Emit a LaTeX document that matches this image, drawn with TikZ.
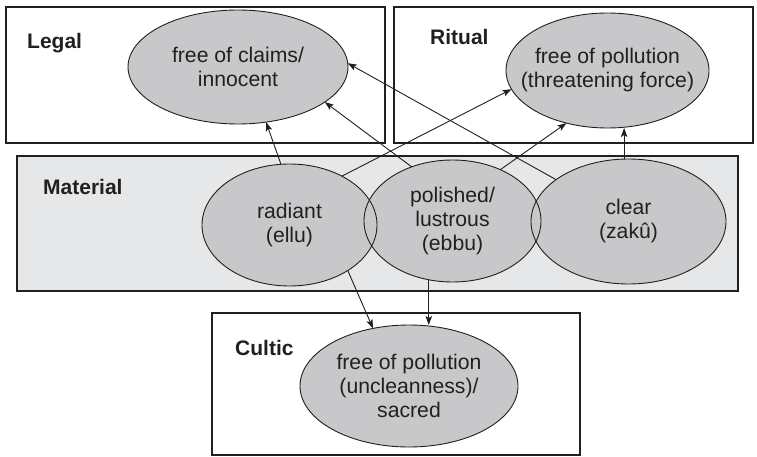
\documentclass[tikz,border=0pt]{standalone}
\usepackage{fontspec}
\setmainfont{Liberation Sans}
\usetikzlibrary{arrows.meta,shapes.geometric}
\definecolor{ink}{HTML}{231F20}
\definecolor{matfill}{HTML}{E6E7E8}
\definecolor{ellfill}{HTML}{C8C8CA}
\newcommand{\zl}[1]{\makebox[0pt]{#1}}
\begin{document}
\begin{tikzpicture}[x=1pt,y=-1pt,
  box/.style={draw=ink,line width=1.6pt},
  lbl/.style={anchor=base west,inner sep=0pt,font=\fontsize{21}{24}\selectfont\bfseries,text=ink},
  ell/.style={ellipse,draw=ink,line width=0.9pt,inner sep=0pt,outer sep=0pt,align=center,font=\fontsize{21.2}{24}\selectfont,text=ink},
  arr/.style={draw=ink,line width=0.9pt,-{Stealth[length=9pt,width=6.5pt,inset=2pt]}}]
\useasboundingbox (0,0) rectangle (757,457);
% boxes
\path[box] (6,7) rectangle (385,143);
\path[box] (394,7) rectangle (753,143);
\path[box,fill=matfill] (17,156) rectangle (738,291);
\path[box] (212,313) rectangle (580,455);
% labels
\node[lbl] (llegal) at (27,49) {Legal};
\node[lbl] (lritual) at (430,45) {Ritual};
\node[lbl] (lmaterial) at (43,194.5) {Material};
\node[lbl] (lcultic) at (235,355.5) {Cultic};
% ellipse fills
\fill[ellfill] (238,67) ellipse [x radius=110, y radius=57];
\fill[ellfill] (607.5,70.5) ellipse [x radius=101.5, y radius=57.5];
\fill[ellfill] (289.5,225) ellipse [x radius=87.5, y radius=61];
\fill[ellfill] (452.5,221) ellipse [x radius=88.5, y radius=61];
\fill[ellfill] (628.5,221.5) ellipse [x radius=97.5, y radius=62.5];
\fill[ellfill] (409,386) ellipse [x radius=109, y radius=61];
% ellipse nodes
\node[ell,minimum width=220pt,minimum height=114pt] (legal) at (238,67) {\zl{free of claims/}\\\zl{innocent}};
\node[ell,minimum width=203pt,minimum height=115pt] (ritual) at (607.5,70.5) {\zl{free of pollution}\\\zl{(threatening force)}};
\node[ell,minimum width=175pt,minimum height=122pt] (radiant) at (289.5,225) {\zl{radiant}\\\zl{(ellu)}};
\node[ell,minimum width=177pt,minimum height=122pt] (polished) at (452.5,221) {\zl{polished/}\\\zl{lustrous}\\\zl{(ebbu)}};
\node[ell,minimum width=195pt,minimum height=125pt] (clear) at (628.5,221.5) {\zl{clear}\\\zl{(zakû)}};
\node[ell,minimum width=218pt,minimum height=122pt] (cultic) at (409,386) {\zl{free of pollution}\\\zl{(uncleanness)/}\\\zl{sacred}};
% connectors
\draw[arr] (radiant.98.7) -- (legal.297.4);
\draw[arr] (polished.127.5) -- (legal.338);
\draw[arr] (clear.150.9) -- (legal.2.6);
\draw[arr] (radiant.43.1) -- (ritual.191.5);
\draw[arr] (polished.47.9) -- (ritual.232.2);
\draw[arr] (clear.94.1) -- (clear.94.1 |- ritual.south);
\draw[arr] (radiant.322) -- (cultic.122.5);
\draw[arr] (polished.248.3) -- (polished.248.3 |- cultic.north);
\end{tikzpicture}
\end{document}
